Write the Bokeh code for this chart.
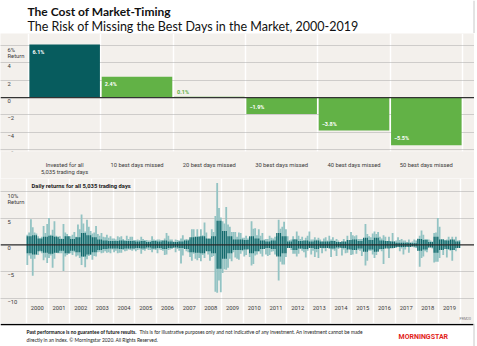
from bokeh.plotting import figure
from bokeh.layouts import column
from bokeh.models import FixedTicker, ColumnDataSource, Span, Range1d
from bokeh.core.properties import value
from bokeh.embed import file_html
from bokeh.resources import INLINE

# ---------------- data ----------------
TITLE = "The Cost of Market-Timing"
SUBTITLE = "The Risk of Missing the Best Days in the Market, 2000-2019"
categories = ["Invested for all\n5,035 trading days", "10 best days missed", "20 best days missed",
              "30 best days missed", "40 best days missed", "50 best days missed"]
returns = [6.1, 2.4, 0.1, -1.9, -3.8, -5.5]
return_labels = ["6.1%", "2.4%", "0.1%", "\u22121.9%", "\u22123.8%", "\u22125.5%"]
bar_y_ticks = [6, 4, 2, 0, -2, -4, -6]
bar_y_labels = ["6%\nReturn", "4", "2", "0", "\u22122", "\u22124", "\u22126"]

DAILY_TITLE = "Daily returns for all 5,035 trading days"
years = list(range(2000, 2020))
daily_y_ticks = [10, 5, 0, -5, -10]
daily_y_labels = ["10%\nReturn", "5", "0", "\u22125", "\u221210"]

# monthly largest daily gain / loss (%)
monthly_high = [
    1.9, 2.3, 4.8, 3.3, 2.3, 2.1, 1.6, 1.2, 1.5, 3.5, 2.2, 3.9,   # 2000
    5.0, 1.9, 2.8, 4.4, 1.7, 1.2, 1.6, 1.2, 3.9, 2.3, 2.0, 1.6,   # 2001
    1.6, 1.9, 2.4, 1.5, 3.8, 2.9, 5.7, 4.0, 2.5, 4.7, 3.4, 2.6,   # 2002
    2.1, 2.3, 3.5, 2.0, 1.7, 2.2, 1.5, 1.4, 1.9, 1.3, 1.6, 1.2,   # 2003
    1.2, 1.0, 1.6, 1.4, 1.6, 1.1, 0.9, 1.7, 1.1, 1.5, 1.5, 0.9,   # 2004
    0.9, 1.0, 0.9, 1.5, 1.1, 0.9, 0.9, 0.8, 0.8, 1.6, 1.0, 0.9,   # 2005
    1.0, 1.0, 0.9, 0.8, 1.2, 2.2, 1.7, 1.0, 1.0, 0.6, 1.0, 0.9,   # 2006
    0.8, 1.2, 1.8, 1.0, 1.1, 1.0, 1.0, 2.9, 2.9, 1.5, 2.9, 1.6,   # 2007
    2.9, 1.8, 4.2, 2.3, 1.1, 1.1, 2.9, 2.4, 5.4, 11.6, 6.9, 5.1,  # 2008
    4.4, 4.0, 7.1, 3.8, 3.4, 2.4, 2.4, 2.4, 1.5, 2.3, 2.2, 1.3,   # 2009
    1.3, 1.7, 1.2, 1.4, 4.4, 3.0, 3.1, 1.8, 2.9, 1.7, 2.2, 1.0,   # 2010
    1.1, 1.1, 1.7, 1.3, 1.2, 1.5, 1.6, 4.7, 3.0, 3.4, 4.3, 2.9,   # 2011
    1.6, 0.9, 1.0, 1.6, 1.1, 2.5, 1.7, 1.1, 1.5, 0.8, 1.3, 1.7,   # 2012
    2.5, 1.0, 1.0, 1.4, 1.0, 1.3, 1.0, 0.6, 1.2, 1.4, 0.8, 1.7,   # 2013
    1.0, 1.4, 0.8, 1.1, 0.8, 0.5, 0.6, 1.1, 0.5, 1.7, 0.4, 2.4,   # 2014
    1.8, 1.6, 1.8, 1.1, 1.1, 1.1, 1.1, 3.9, 2.0, 1.6, 1.4, 2.1,   # 2015
    2.5, 2.0, 2.4, 1.5, 1.2, 1.8, 1.5, 0.7, 1.5, 0.7, 2.2, 0.6,   # 2016
    0.8, 1.4, 0.9, 1.1, 0.8, 0.8, 0.5, 1.0, 0.4, 0.6, 1.0, 0.8,   # 2017
    1.2, 1.7, 2.7, 1.9, 1.1, 1.1, 1.0, 0.8, 0.6, 2.2, 2.3, 5.0,   # 2018
    3.4, 1.1, 1.1, 0.9, 1.0, 1.5, 0.7, 1.5, 0.8, 1.5, 0.8, 0.9,   # 2019
]
monthly_low = [
    -3.8, -2.0, -2.6, -5.8, -2.6, -1.8, -1.9, -1.0, -1.6, -2.9, -2.4, -3.4,  # 2000
    -2.5, -2.0, -4.3, -2.6, -1.5, -1.6, -1.6, -1.6, -4.9, -2.2, -1.9, -1.7,  # 2001
    -1.6, -1.9, -1.4, -2.2, -2.0, -2.5, -3.8, -2.3, -4.2, -2.7, -2.1, -1.9,  # 2002
    -2.8, -2.1, -2.2, -1.4, -1.3, -1.6, -1.5, -1.2, -1.5, -1.4, -1.6, -0.9,  # 2003
    -1.4, -1.1, -1.6, -1.5, -1.5, -1.0, -1.2, -1.1, -0.9, -1.0, -1.1, -0.9,  # 2004
    -1.2, -1.0, -0.9, -1.7, -1.0, -1.1, -0.8, -1.0, -1.0, -1.4, -0.9, -1.0,  # 2005
    -1.6, -0.9, -1.0, -1.1, -1.9, -1.8, -1.0, -0.9, -0.8, -0.6, -1.4, -0.8,  # 2006
    -1.1, -3.5, -2.0, -0.7, -1.2, -1.4, -2.3, -3.0, -1.7, -2.6, -2.9, -2.5,  # 2007
    -3.1, -1.9, -2.5, -1.0, -1.8, -3.0, -2.3, -2.1, -8.8, -9.0, -6.7, -8.9,  # 2008
    -5.3, -4.6, -4.7, -4.3, -2.6, -3.1, -1.4, -2.4, -2.6, -2.8, -1.7, -1.2,  # 2009
    -2.2, -1.9, -0.8, -2.3, -3.9, -3.6, -2.0, -1.8, -1.2, -1.7, -2.2, -0.8,  # 2010
    -1.8, -2.1, -1.9, -1.3, -1.2, -1.8, -2.0, -6.7, -3.2, -3.7, -3.7, -2.3,  # 2011
    -0.6, -0.6, -1.0, -1.7, -1.7, -2.2, -1.7, -0.8, -1.1, -1.4, -2.4, -1.1,  # 2012
    -0.4, -1.8, -1.1, -2.3, -1.4, -2.5, -0.4, -1.6, -0.7, -1.2, -0.3, -0.8,  # 2013
    -2.3, -0.9, -1.1, -2.1, -0.8, -0.6, -2.0, -0.9, -1.6, -1.5, -0.7, -1.9,  # 2014
    -1.8, -0.9, -1.7, -1.0, -1.1, -2.1, -1.1, -3.9, -3.0, -1.1, -1.1, -1.8,  # 2015
    -2.5, -1.9, -1.1, -0.9, -1.2, -3.6, -0.5, -0.3, -2.5, -0.7, -0.7, -0.5,  # 2016
    -0.6, -0.3, -1.2, -0.7, -1.8, -0.9, -0.2, -1.5, -0.3, -0.2, -0.5, -0.6,  # 2017
    -1.1, -4.1, -2.5, -2.2, -1.2, -1.4, -0.5, -0.3, -0.7, -3.3, -3.2, -3.2,  # 2018
    -2.5, -0.8, -1.9, -0.4, -2.4, -1.0, -1.1, -3.0, -1.0, -1.2, -0.4, -0.6,  # 2019
]
# typical size of daily moves per quarter (dense dark core)
quarterly_core = [
    1.6, 1.8, 1.2, 1.5,  1.7, 1.5, 1.1, 1.6,  1.1, 1.4, 2.2, 1.8,  1.4, 1.0, 0.8, 0.7,
    0.7, 0.8, 0.7, 0.7,  0.6, 0.7, 0.5, 0.7,  0.6, 0.8, 0.6, 0.5,  0.6, 0.8, 1.4, 1.5,
    1.6, 1.2, 1.6, 4.5,  2.6, 1.6, 1.0, 1.0,  0.9, 1.6, 1.2, 0.8,  0.6, 0.8, 2.2, 1.6,
    0.6, 1.0, 0.7, 0.8,  0.6, 0.8, 0.6, 0.6,  0.7, 0.5, 0.6, 0.9,  1.0, 0.7, 1.3, 0.9,
    1.3, 0.8, 0.7, 0.6,  0.4, 0.4, 0.4, 0.3,  1.1, 0.9, 0.5, 1.5,  1.0, 0.8, 1.0, 0.6,
]

FOOT_BOLD = "Past performance is no guarantee of future results."
FOOT_1 = "This is for illustrative purposes only and not indicative of any investment. An investment cannot be made"
FOOT_2 = "directly in an index. \u00a9 Morningstar 2020. All Rights Reserved."

# ---------------- style ----------------
BG = "#f3f0ec"
TEAL_DARK = "#075c5e"
GREEN = "#62b246"
SPIKE_LIGHT = "#93c3c3"
SPIKE_DARK = "#12696c"
GRID = "#a9a9a9"
SANS_S = "Roboto"
SANS = value(SANS_S)
LABEL_SIZE = "5.8px"


def base(width, height, xr, yr, bg):
    p = figure(width=width, height=height, x_range=xr, y_range=yr,
               output_backend="svg", toolbar_location=None,
               x_axis_location=None, y_axis_location=None,
               min_border=0, min_border_left=0, min_border_right=0,
               min_border_top=0, min_border_bottom=0)
    p.background_fill_color = bg
    p.border_fill_color = bg
    p.outline_line_color = None
    p.xgrid.visible = False
    p.ygrid.visible = False
    return p


# ---------------- title ----------------
tf = base(477, 33, Range1d(0, 477), Range1d(33, 0), "white")
tf.text(x=[27], y=[10.5], text=[TITLE], text_font=value("Lato"), text_font_style="bold",
        text_font_size="12px", text_baseline="middle", text_color="#111111")
tf.text(x=[27], y=[26], text=[SUBTITLE], text_font=value("Lato"),
        text_font_size="12.5px", text_baseline="middle", text_color="#111111")
tf.segment(x0=[473.5], y0=[0], x1=[473.5], y1=[33], line_color="#c8c8c8", line_width=1)

# ---------------- bar chart ----------------
n = len(categories)
bp = figure(width=474, height=145, x_range=Range1d(-0.387, 6.166), y_range=Range1d(-6.21, 7.38),
            output_backend="svg", toolbar_location=None, y_axis_location=None,
            min_border=0, min_border_left=0, min_border_right=0, min_border_top=0,
            min_border_bottom=0)
bp.background_fill_color = BG
bp.border_fill_color = BG
bp.outline_line_color = None
bp.ygrid.ticker = FixedTicker(ticks=[t for t in bar_y_ticks if t != 0])
bp.ygrid.grid_line_color = GRID
bp.ygrid.grid_line_dash = "1 1"
bp.ygrid.grid_line_width = 1
bp.xgrid.ticker = FixedTicker(ticks=list(range(n + 1)))
bp.xgrid.grid_line_color = "white"
bp.xgrid.grid_line_width = 1.5

ax = bp.xaxis[0]
ax.ticker = FixedTicker(ticks=[i + 0.5 for i in range(n)])
ax.major_label_overrides = {i + 0.5: c for i, c in enumerate(categories)}
ax.axis_line_color = None
ax.major_tick_line_color = None
ax.minor_tick_line_color = None
ax.major_label_standoff = 4
ax.major_label_text_font = SANS_S
ax.major_label_text_font_size = LABEL_SIZE
ax.major_label_text_color = "#3a3a3a"
ax.major_label_text_line_height = 1.3

bsrc = ColumnDataSource(dict(
    x=[i + 0.5 for i in range(n)], top=returns,
    color=[TEAL_DARK] + [GREEN] * (n - 1)))
bp.vbar(x="x", top="top", bottom=0, width=0.975, fill_color="color", line_color=None, source=bsrc)
bp.add_layout(Span(location=0, dimension="width", line_color="#333333", line_width=1.2))

pos = [i for i, v in enumerate(returns) if v >= 0.5]
small = [i for i, v in enumerate(returns) if abs(v) < 0.5]
neg = [i for i, v in enumerate(returns) if v <= -0.5]
bp.text(x=[i + 0.0125 for i in pos], y=[returns[i] for i in pos], text=[return_labels[i] for i in pos],
        x_offset=3, y_offset=4, text_baseline="top", text_font=SANS, text_font_style="bold",
        text_font_size="5.5px", text_color="white")
bp.text(x=[i + 0.0125 for i in small], y=[returns[i] for i in small], text=[return_labels[i] for i in small],
        x_offset=3, y_offset=-2, text_baseline="bottom", text_font=SANS, text_font_style="bold",
        text_font_size="5.5px", text_color=GREEN)
bp.text(x=[i + 0.0125 for i in neg], y=[returns[i] for i in neg], text=[return_labels[i] for i in neg],
        x_offset=3, y_offset=-4, text_baseline="bottom", text_font=SANS, text_font_style="bold",
        text_font_size="5.5px", text_color="white")
bp.text(x=[-0.387] * len(bar_y_ticks), y=bar_y_ticks, text=bar_y_labels, x_offset=7, y_offset=1.5,
        text_baseline="top", text_font=SANS, text_font_size=LABEL_SIZE, text_color="#3a3a3a",
        text_line_height=1.05)

# ---------------- daily returns ----------------
dp = base(474, 145, Range1d(1998.806, 2020.65), Range1d(-14.76, 12.43), BG)
dp.xgrid.visible = True
dp.ygrid.visible = True
dp.ygrid.ticker = FixedTicker(ticks=[t for t in daily_y_ticks if t != 0])
dp.ygrid.grid_line_color = GRID
dp.ygrid.grid_line_dash = "1 1"
dp.xgrid.ticker = FixedTicker(ticks=years + [years[-1] + 1])
dp.xgrid.grid_line_color = "white"
dp.xgrid.grid_line_width = 1.5

month_x = [years[0] + (i + 0.5) / 12 for i in range(len(monthly_high))]
core = [quarterly_core[i // 3] for i in range(len(monthly_high))]
dp.vbar(x=month_x, top=monthly_high, bottom=monthly_low, width=1.0 / 12,
        fill_color=SPIKE_LIGHT, line_color=None)
dp.vbar(x=month_x, top=core, bottom=[-c for c in core], width=0.7 / 12,
        fill_color=SPIKE_DARK, line_color=None)
dp.add_layout(Span(location=0, dimension="width", line_color="#2a2a2a", line_width=1.2))

dp.text(x=[y + 0.5 for y in years], y=[-11.94] * len(years), text=[str(y) for y in years],
        text_align="center", text_baseline="middle", text_font=SANS, text_font_size=LABEL_SIZE,
        text_color="#3a3a3a")
dp.text(x=[1998.806] * len(daily_y_ticks), y=daily_y_ticks, text=daily_y_labels, x_offset=7, y_offset=1.5,
        text_baseline="top", text_font=SANS, text_font_size=LABEL_SIZE, text_color="#3a3a3a",
        text_line_height=1.05)
dp.text(x=[2000.235], y=[11.1], text=[DAILY_TITLE], text_baseline="middle", text_font=SANS,
        text_font_style="bold", text_font_size="5.8px", text_color="#1a1a1a")
dp.text(x=[2019.96], y=[-13.95], text=["PRM20"], text_baseline="middle", text_font=SANS,
        text_font_size="3.5px", text_color="#777777")

# ---------------- footer ----------------
ff = base(477, 23, Range1d(0, 477), Range1d(23, 0), "white")
ff.segment(x0=[0], y0=[1], x1=[473], y1=[1], line_color="black", line_width=1.5)
ff.segment(x0=[473.5], y0=[0], x1=[473.5], y1=[23], line_color="#c8c8c8", line_width=1)
ff.text(x=[26], y=[8], text=[FOOT_BOLD], text_baseline="middle", text_font=value("Lato"),
        text_font_style="bold", text_font_size="4.9px", text_color="#111111")
ff.text(x=[139], y=[8], text=[FOOT_1], text_baseline="middle", text_font=value("Lato"),
        text_font_size="4.9px", text_color="#222222")
ff.text(x=[26], y=[16], text=[FOOT_2], text_baseline="middle", text_font=value("Lato"),
        text_font_size="4.9px", text_color="#222222")
ff.text(x=[398], y=[13.3], text=["MORNINGSTAR"], text_baseline="middle", text_font=SANS,
        text_font_style="bold", text_font_size="7px", text_color="#e2231a")

layout = column(tf, bp, dp, ff, spacing=0)
open("out.html", "w").write(file_html(layout, INLINE))
